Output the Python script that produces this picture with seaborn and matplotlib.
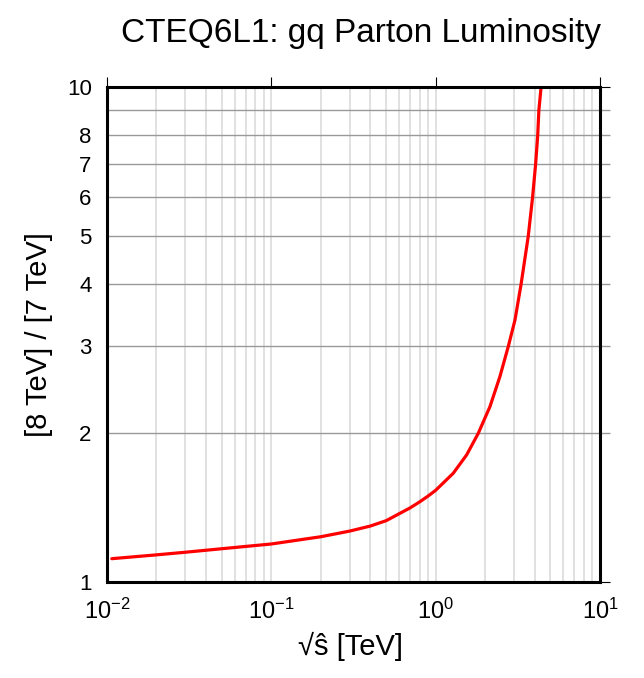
import numpy as np
import pandas as pd
import seaborn as sns
import matplotlib.pyplot as plt
from matplotlib.ticker import NullFormatter

# ratio of gq luminosities
sqrt_s = [0.0107, 0.02, 0.03, 0.05, 0.1, 0.2, 0.3, 0.4, 0.5, 0.7, 0.8, 0.9, 1.0,
          1.28, 1.544, 1.816, 2.14, 2.46, 2.77, 3.04, 3.31, 3.66, 3.89, 4.06, 4.18, 4.25, 4.38]
ratio = [1.117, 1.137, 1.151, 1.170, 1.196, 1.237, 1.27, 1.300, 1.333, 1.415, 1.455, 1.495, 1.535,
         1.662, 1.81, 2.0, 2.265, 2.604, 3.0, 3.39, 4.0, 5.0, 6.0, 7.0, 8.0, 9.0, 10.0]

y_major = [1, 10]
y_major_labels = ["1", "10"]
y_minor = [2, 3, 4, 5, 6, 7, 8, 9]
y_minor_labels = ["2", "3", "4", "5", "6", "7", "8", ""]

data = pd.DataFrame({"sqrt_s": sqrt_s, "ratio": ratio})

sns.set_theme(style="white")
plt.rcParams["font.family"] = ["Liberation Sans", "DejaVu Sans"]
plt.rcParams["mathtext.fontset"] = "custom"
plt.rcParams["mathtext.rm"] = "Liberation Sans"
plt.rcParams["mathtext.it"] = "Liberation Sans:italic"
plt.rcParams["text.color"] = "black"
plt.rcParams["xtick.color"] = "black"
plt.rcParams["ytick.color"] = "black"

fig = plt.figure(figsize=(6.44, 6.78), dpi=100)
ax = fig.add_axes([0.1661, 0.1409, 0.7655, 0.7301])

sns.lineplot(data=data, x="sqrt_s", y="ratio", color="#ff0000", linewidth=2.3, ax=ax)

ax.set_xscale("log")
ax.set_yscale("log")
ax.set_xlim(1e-2, 1e1)
ax.set_ylim(1, 10)

ax.set_yticks(y_major, labels=y_major_labels)
ax.set_yticks(y_minor, labels=y_minor_labels, minor=True)
ax.xaxis.set_minor_formatter(NullFormatter())

# grid: light vertical lines, darker horizontal ones
ax.grid(axis="x", which="both", color="#dcdcdc", linewidth=1.2)
ax.grid(axis="y", which="minor", color="#999999", linewidth=1.0)
ax.set_axisbelow(True)

ax.tick_params(axis="both", which="both", direction="out", top=True, right=True,
               labelsize=16, labelcolor="black")
ax.tick_params(axis="x", which="major", length=7, width=0.8, color="black", pad=5, labelsize=17)
ax.tick_params(axis="x", which="minor", length=0)
ax.tick_params(axis="y", which="major", length=7, width=0.8, color="black", pad=4)
ax.tick_params(axis="y", which="minor", length=7, width=1.0, color="#999999", pad=4)

for sp in ax.spines.values():
    sp.set_linewidth(2.2)
    sp.set_color("black")
    sp.set_zorder(5)

ax.set_xlabel("")
ax.set_ylabel("")
fig.text(0.5606, 0.9385, "CTEQ6L1: gq Parton Luminosity", fontsize=24, ha="center", va="baseline")
fig.text(0.0606, 0.506, "[8 TeV] / [7 TeV]", fontsize=21, rotation=90, ha="center", va="center")
fig.text(0.5435, 0.047, "\u221a\u015d [TeV]", fontsize=21, ha="center", va="center")

plt.savefig("out.png", dpi=100)
